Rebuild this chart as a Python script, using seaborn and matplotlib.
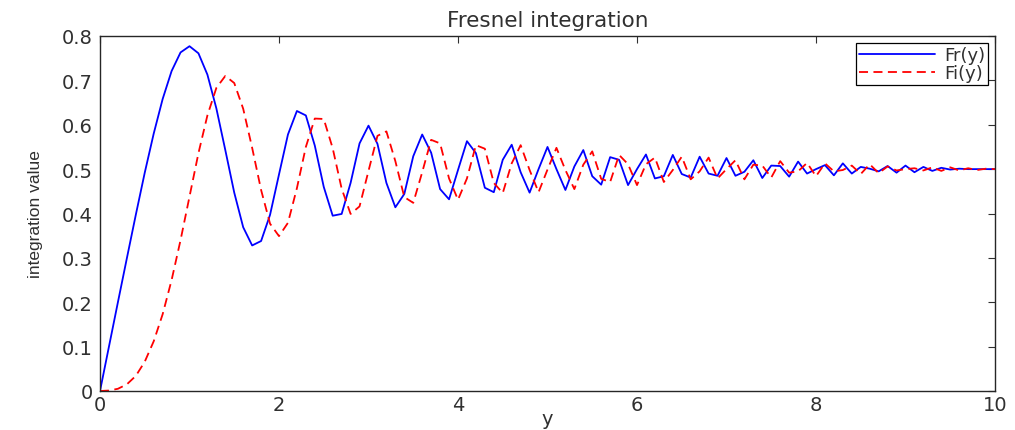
import numpy as np
import pandas as pd
import matplotlib
matplotlib.use("Agg")
import matplotlib.pyplot as plt
import seaborn as sns

# sample positions (step 0.1 from 0 to 10)
y_grid = [round(i * 0.1, 1) for i in range(101)]

fr_values = [
    0.000, 0.100, 0.200, 0.299, 0.397, 0.492, 0.580, 0.658, 0.721, 0.763,
    0.777, 0.761, 0.713, 0.637, 0.543, 0.447, 0.369, 0.328, 0.338, 0.397,
    0.488, 0.578, 0.631, 0.621, 0.553, 0.460, 0.395, 0.399, 0.469, 0.558,
    0.598, 0.557, 0.469, 0.414, 0.444, 0.529, 0.578, 0.537, 0.455, 0.432,
    0.498, 0.563, 0.536, 0.458, 0.448, 0.521, 0.555, 0.493, 0.447, 0.500,
    0.550, 0.500, 0.453, 0.506, 0.543, 0.484, 0.465, 0.527, 0.521, 0.464,
    0.500, 0.533, 0.479, 0.484, 0.532, 0.489, 0.481, 0.528, 0.490, 0.485,
    0.525, 0.485, 0.494, 0.520, 0.480, 0.508, 0.507, 0.483, 0.517, 0.490,
    0.500, 0.509, 0.486, 0.513, 0.490, 0.505, 0.501, 0.495, 0.507, 0.492,
    0.508, 0.493, 0.505, 0.496, 0.503, 0.499, 0.501, 0.500, 0.500, 0.500,
    0.500,
]

fi_values = [
    0.000, 0.001, 0.005, 0.015, 0.034, 0.066, 0.112, 0.173, 0.250, 0.340,
    0.438, 0.536, 0.621, 0.683, 0.710, 0.694, 0.636, 0.548, 0.453, 0.377,
    0.349, 0.379, 0.457, 0.550, 0.614, 0.613, 0.547, 0.456, 0.399, 0.416,
    0.496, 0.575, 0.585, 0.518, 0.437, 0.424, 0.493, 0.566, 0.558, 0.479,
    0.431, 0.479, 0.554, 0.546, 0.469, 0.446, 0.513, 0.554, 0.498, 0.448,
    0.499, 0.548, 0.498, 0.455, 0.510, 0.540, 0.478, 0.471, 0.532, 0.511,
    0.464, 0.511, 0.526, 0.471, 0.498, 0.528, 0.477, 0.495, 0.526, 0.479,
    0.500, 0.520, 0.477, 0.510, 0.508, 0.481, 0.518, 0.492, 0.495, 0.514,
    0.484, 0.513, 0.495, 0.498, 0.508, 0.489, 0.511, 0.491, 0.506, 0.497,
    0.500, 0.502, 0.497, 0.504, 0.496, 0.504, 0.497, 0.502, 0.498, 0.501,
    0.500,
]

x_ticks = [0, 2, 4, 6, 8, 10]
y_ticks = [0, 0.1, 0.2, 0.3, 0.4, 0.5, 0.6, 0.7, 0.8]
y_ticklabels = ["0", "0.1", "0.2", "0.3", "0.4", "0.5", "0.6", "0.7", "0.8"]

title = "Fresnel integration"
xlabel = "y"
ylabel = "integration value"

sns.set_style("white")
plt.rcParams["font.family"] = ["DejaVu Sans"]

df = pd.DataFrame({"y": y_grid, "Fr": fr_values, "Fi": fi_values})

fig = plt.figure(figsize=(10.15, 4.31), dpi=100)
ax = fig.add_axes([100 / 1015, 39 / 431, 895 / 1015, 355 / 431])

sns.lineplot(data=df, x="y", y="Fr", ax=ax, color="#0000ff", lw=1.3,
             label="Fr(y)", estimator=None, sort=False)
sns.lineplot(data=df, x="y", y="Fi", ax=ax, color="#ff0000", lw=1.3,
             linestyle=(0, (5, 3)), label="Fi(y)", estimator=None, sort=False)

ax.set_xlim(0, 10)
ax.set_ylim(0, 0.8)
ax.set_xticks(x_ticks)
ax.set_xticklabels([str(t) for t in x_ticks])
ax.set_yticks(y_ticks)
ax.set_yticklabels(y_ticklabels)

txt_color = "#303030"
ax.tick_params(direction="in", length=5, width=0.8, colors=txt_color,
               labelsize=14, top=True, right=True)
ax.tick_params(axis="y", pad=5)
ax.tick_params(axis="x", pad=3)
for sp in ax.spines.values():
    sp.set_visible(True)
    sp.set_color("#262626")
    sp.set_linewidth(1.0)

ax.set_title(title, fontsize=15.5, color=txt_color, pad=7)
ax.set_xlabel(xlabel, fontsize=14, color=txt_color, labelpad=-4)
ax.set_ylabel(ylabel, fontsize=12.5, color=txt_color, labelpad=14,
              family=["Liberation Sans", "DejaVu Sans"])

leg = ax.legend(loc="upper right", fontsize=13, frameon=True, fancybox=False,
                edgecolor="#000000", framealpha=1, borderpad=0.15,
                handlelength=4.2, labelspacing=0.0, borderaxespad=0.4,
                handletextpad=0.5)
leg.get_frame().set_linewidth(0.9)
for t in leg.get_texts():
    t.set_color(txt_color)

fig.savefig("out.png", dpi=100)
